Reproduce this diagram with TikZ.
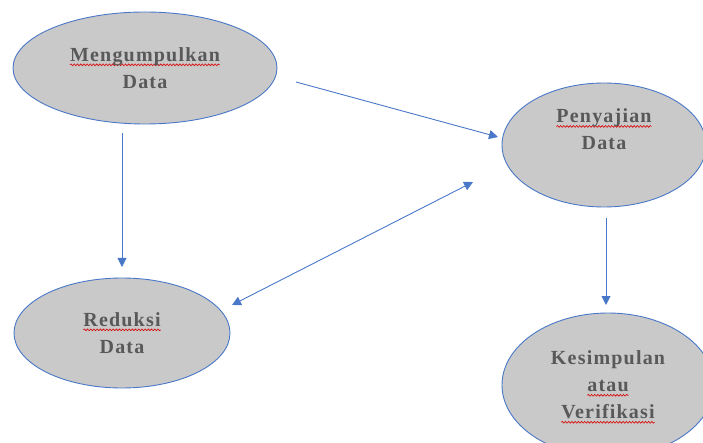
\documentclass[tikz,border=0pt]{standalone}
\usepackage{fontspec}
\setmainfont{Liberation Serif}
\newfontfamily\lblfont[LetterSpace=6]{Liberation Serif}
\usetikzlibrary{shapes.geometric,arrows.meta,decorations.pathmorphing}
\definecolor{edgeblue}{HTML}{4A78C8}
\definecolor{fillgray}{HTML}{C9C9C9}
\definecolor{txtgray}{HTML}{595959}
\newlength\sqw
\newcommand\squig[1]{\settowidth\sqw{#1}\leavevmode\rlap{\tikz[overlay,baseline=0pt]\draw[red!85!black,line width=0.6pt,decorate,decoration={snake,amplitude=0.9pt,segment length=3.2pt}] (0pt,-3.5pt) -- (\sqw,-3.5pt);}#1}
\tikzset{
  ell/.style={ellipse,draw=edgeblue,line width=0.9pt,fill=fillgray,inner sep=0pt,
    align=center,text=txtgray,font=\lblfont\fontsize{20}{27}\selectfont\bfseries},
  arr/.style={draw=edgeblue,line width=0.9pt,-{Triangle[length=9pt,width=9pt]}},
  darr/.style={draw=edgeblue,line width=0.9pt,{Triangle[length=9pt,width=9pt]}-{Triangle[length=9pt,width=9pt]}}
}
\begin{document}
\begin{tikzpicture}[x=1pt,y=-1pt]
\useasboundingbox (0,0) rectangle (703,443);
\clip (0,0) rectangle (703,443);
\node[ell,minimum width=264pt,minimum height=112pt] (m) at (145,68) {\squig{Mengumpulkan}\\Data};
\node[ell,minimum width=204pt,minimum height=124pt] (p) at (604,145) {\squig{Penyajian}\\Data\\[4pt]};
\node[ell,minimum width=216pt,minimum height=110pt] (r) at (122,333) {\squig{Reduksi}\\Data};
\node[ell,minimum width=212pt,minimum height=144pt] (k) at (608,385) {Kesimpulan\\\squig{atau}\\\squig{Verifikasi}};
\coordinate (m1) at (296,82);
\coordinate (p1) at (498,137);
\coordinate (m2) at (122,133);
\coordinate (r1) at (122,267);
\coordinate (r2) at (232,305);
\coordinate (p2) at (473,182);
\coordinate (p3) at (606,218);
\coordinate (k1) at (606,305);
\draw[arr] (m1) -- (p1);
\draw[arr] (m2) -- (r1);
\draw[darr] (r2) -- (p2);
\draw[arr] (p3) -- (k1);
\end{tikzpicture}
\end{document}
